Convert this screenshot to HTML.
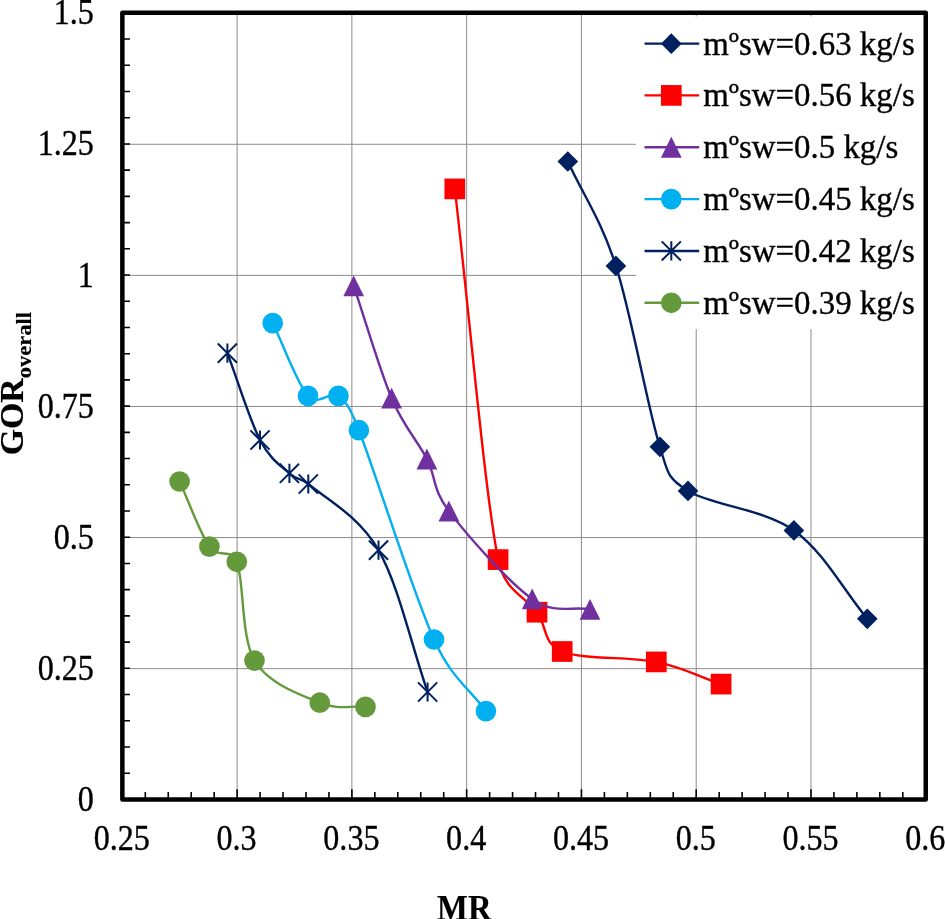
<!DOCTYPE html>
<html><head><meta charset="utf-8"><title>chart</title>
<style>html,body{margin:0;padding:0;background:#fff}body{width:945px;height:919px;overflow:hidden}svg{display:block;will-change:transform}text{font-family:"Liberation Serif",serif;fill:#000;stroke:#000;stroke-width:.35px}</style></head><body>
<svg width="945" height="919" viewBox="0 0 945 919">
<rect width="945" height="919" fill="#fff"/>
<path d="M237.12,12.85 V799.40 M351.89,12.85 V799.40 M466.66,12.85 V799.40 M581.44,12.85 V799.40 M696.21,12.85 V799.40 M810.98,12.85 V799.40 M122.35,668.66 H925.75 M122.35,537.57 H925.75 M122.35,406.48 H925.75 M122.35,275.38 H925.75 M122.35,144.29 H925.75" stroke="#8c8c8c" stroke-width="1" fill="none"/>
<path d="M122.35,799.40 h7.6 M122.35,773.18 h7.6 M122.35,746.96 h7.6 M122.35,720.75 h7.6 M122.35,694.53 h7.6 M122.35,668.31 h7.6 M122.35,642.09 h7.6 M122.35,615.87 h7.6 M122.35,589.65 h7.6 M122.35,563.43 h7.6 M122.35,537.22 h7.6 M122.35,511.00 h7.6 M122.35,484.78 h7.6 M122.35,458.56 h7.6 M122.35,432.34 h7.6 M122.35,406.12 h7.6 M122.35,379.91 h7.6 M122.35,353.69 h7.6 M122.35,327.47 h7.6 M122.35,301.25 h7.6 M122.35,275.03 h7.6 M122.35,248.81 h7.6 M122.35,222.60 h7.6 M122.35,196.38 h7.6 M122.35,170.16 h7.6 M122.35,143.94 h7.6 M122.35,117.72 h7.6 M122.35,91.50 h7.6 M122.35,65.29 h7.6 M122.35,39.07 h7.6 M122.35,12.85 h7.6 M122.35,799.40 v-10.2 M145.30,799.40 v-7.4 M168.26,799.40 v-7.4 M191.21,799.40 v-7.4 M214.17,799.40 v-7.4 M237.12,799.40 v-10.2 M260.08,799.40 v-7.4 M283.03,799.40 v-7.4 M305.98,799.40 v-7.4 M328.94,799.40 v-7.4 M351.89,799.40 v-10.2 M374.85,799.40 v-7.4 M397.80,799.40 v-7.4 M420.76,799.40 v-7.4 M443.71,799.40 v-7.4 M466.66,799.40 v-10.2 M489.62,799.40 v-7.4 M512.57,799.40 v-7.4 M535.53,799.40 v-7.4 M558.48,799.40 v-7.4 M581.44,799.40 v-10.2 M604.39,799.40 v-7.4 M627.34,799.40 v-7.4 M650.30,799.40 v-7.4 M673.25,799.40 v-7.4 M696.21,799.40 v-10.2 M719.16,799.40 v-7.4 M742.12,799.40 v-7.4 M765.07,799.40 v-7.4 M788.02,799.40 v-7.4 M810.98,799.40 v-10.2 M833.93,799.40 v-7.4 M856.89,799.40 v-7.4 M879.84,799.40 v-7.4 M902.80,799.40 v-7.4 M925.75,799.40 v-10.2" stroke="#000" stroke-width="1.6" fill="none"/>
<path d="M567.80,161.50 C583.83,196.30 600.55,218.35 615.90,265.90 C631.25,313.45 647.88,409.30 659.90,446.80 C667.88,471.70 665.82,477.06 688.00,490.90 C710.33,504.83 764.02,509.08 793.90,530.40 C823.78,551.72 842.83,589.33 867.30,618.80" stroke="#002060" stroke-width="2.4" fill="none" stroke-linecap="round"/>
<path d="M567.80,151.15 L578.15,161.50 L567.80,171.85 L557.45,161.50Z" fill="#002060"/><path d="M615.90,255.55 L626.25,265.90 L615.90,276.25 L605.55,265.90Z" fill="#002060"/><path d="M659.90,436.45 L670.25,446.80 L659.90,457.15 L649.55,446.80Z" fill="#002060"/><path d="M688.00,480.55 L698.35,490.90 L688.00,501.25 L677.65,490.90Z" fill="#002060"/><path d="M793.90,520.05 L804.25,530.40 L793.90,540.75 L783.55,530.40Z" fill="#002060"/><path d="M867.30,608.45 L877.65,618.80 L867.30,629.15 L856.95,618.80Z" fill="#002060"/>
<path d="M454.80,188.90 C469.23,312.47 484.40,489.05 498.10,559.60 C504.34,591.71 526.32,596.88 537.00,612.20 C547.68,627.52 542.32,643.22 562.20,651.50 C582.08,659.78 629.82,656.47 656.30,661.90 C682.78,667.33 699.50,676.70 721.10,684.10" stroke="#ff0000" stroke-width="2.4" fill="none" stroke-linecap="round"/>
<rect x="444.45" y="178.55" width="20.70" height="20.70" fill="#ff0000"/><rect x="487.75" y="549.25" width="20.70" height="20.70" fill="#ff0000"/><rect x="526.65" y="601.85" width="20.70" height="20.70" fill="#ff0000"/><rect x="551.85" y="641.15" width="20.70" height="20.70" fill="#ff0000"/><rect x="645.95" y="651.55" width="20.70" height="20.70" fill="#ff0000"/><rect x="710.75" y="673.75" width="20.70" height="20.70" fill="#ff0000"/>
<path d="M353.70,285.90 C366.33,323.33 379.40,369.35 391.60,398.20 C403.80,427.05 417.35,440.18 426.90,459.00 C436.45,477.82 431.89,488.51 448.90,511.10 C466.45,534.42 508.68,582.53 532.20,598.90 C555.72,615.27 570.73,605.83 590.00,609.30" stroke="#7030a0" stroke-width="2.4" fill="none" stroke-linecap="round"/>
<path d="M353.70,275.50 L364.10,296.30 L343.30,296.30Z" fill="#7030a0"/><path d="M391.60,387.80 L402.00,408.60 L381.20,408.60Z" fill="#7030a0"/><path d="M426.90,448.60 L437.30,469.40 L416.50,469.40Z" fill="#7030a0"/><path d="M448.90,500.70 L459.30,521.50 L438.50,521.50Z" fill="#7030a0"/><path d="M532.20,588.50 L542.60,609.30 L521.80,609.30Z" fill="#7030a0"/><path d="M590.00,598.90 L600.40,619.70 L579.60,619.70Z" fill="#7030a0"/>
<path d="M272.70,323.10 C284.47,347.37 297.05,383.77 308.00,395.90 C318.18,407.18 329.92,390.18 338.40,395.90 C346.88,401.62 351.60,411.60 358.90,430.20 C374.83,470.80 412.83,592.68 434.00,639.50 C452.22,679.79 468.60,687.23 485.90,711.10" stroke="#00b0f0" stroke-width="2.4" fill="none" stroke-linecap="round"/>
<circle cx="272.70" cy="323.10" r="10.35" fill="#00b0f0"/><circle cx="308.00" cy="395.90" r="10.35" fill="#00b0f0"/><circle cx="338.40" cy="395.90" r="10.35" fill="#00b0f0"/><circle cx="358.90" cy="430.20" r="10.35" fill="#00b0f0"/><circle cx="434.00" cy="639.50" r="10.35" fill="#00b0f0"/><circle cx="485.90" cy="711.10" r="10.35" fill="#00b0f0"/>
<path d="M227.40,353.10 C238.27,382.07 249.67,419.97 260.00,440.00 C270.18,459.74 281.35,465.97 289.40,473.30 C297.43,480.61 300.07,476.91 308.30,484.00 C323.15,496.80 358.62,515.43 378.50,550.10 C398.38,584.77 411.23,644.70 427.60,692.00" stroke="#002060" stroke-width="2.4" fill="none" stroke-linecap="round"/>
<path d="M217.80,343.50 L237.00,362.70 M217.80,362.70 L237.00,343.50 M227.40,343.50 L227.40,362.70" stroke="#002060" stroke-width="2.0" fill="none"/><path d="M250.40,430.40 L269.60,449.60 M250.40,449.60 L269.60,430.40 M260.00,430.40 L260.00,449.60" stroke="#002060" stroke-width="2.0" fill="none"/><path d="M279.80,463.70 L299.00,482.90 M279.80,482.90 L299.00,463.70 M289.40,463.70 L289.40,482.90" stroke="#002060" stroke-width="2.0" fill="none"/><path d="M298.70,474.40 L317.90,493.60 M298.70,493.60 L317.90,474.40 M308.30,474.40 L308.30,493.60" stroke="#002060" stroke-width="2.0" fill="none"/><path d="M368.90,540.50 L388.10,559.70 M368.90,559.70 L388.10,540.50 M378.50,540.50 L378.50,559.70" stroke="#002060" stroke-width="2.0" fill="none"/><path d="M418.00,682.40 L437.20,701.60 M418.00,701.60 L437.20,682.40 M427.60,682.40 L427.60,701.60" stroke="#002060" stroke-width="2.0" fill="none"/>
<path d="M179.60,481.50 C189.53,503.20 199.87,533.22 209.40,546.60 C218.49,559.36 231.04,547.23 236.80,561.80 C244.32,580.80 240.67,637.12 254.50,660.60 C268.33,684.08 301.30,694.98 319.80,702.70 C338.30,710.42 350.27,705.50 365.50,706.90" stroke="#649a3c" stroke-width="2.4" fill="none" stroke-linecap="round"/>
<circle cx="179.60" cy="481.50" r="10.35" fill="#649a3c"/><circle cx="209.40" cy="546.60" r="10.35" fill="#649a3c"/><circle cx="236.80" cy="561.80" r="10.35" fill="#649a3c"/><circle cx="254.50" cy="660.60" r="10.35" fill="#649a3c"/><circle cx="319.80" cy="702.70" r="10.35" fill="#649a3c"/><circle cx="365.50" cy="706.90" r="10.35" fill="#649a3c"/>
<rect x="636.0" y="16.5" width="287.5" height="312.5" fill="#fff"/>
<path d="M644.5,43.65 H699.2" stroke="#002060" stroke-width="2.4"/>
<path d="M671.30,33.30 L681.65,43.65 L671.30,54.00 L660.95,43.65Z" fill="#002060"/>
<text x="703.2" y="54.55" font-size="32.9">mºsw=0.63 kg/s</text>
<path d="M644.5,95.40 H699.2" stroke="#ff0000" stroke-width="2.4"/>
<rect x="660.95" y="85.05" width="20.70" height="20.70" fill="#ff0000"/>
<text x="703.2" y="106.30" font-size="32.9">mºsw=0.56 kg/s</text>
<path d="M644.5,147.25 H699.2" stroke="#7030a0" stroke-width="2.4"/>
<path d="M671.30,136.85 L681.70,157.65 L660.90,157.65Z" fill="#7030a0"/>
<text x="703.2" y="158.15" font-size="32.9">mºsw=0.5 kg/s</text>
<path d="M644.5,199.10 H699.2" stroke="#00b0f0" stroke-width="2.4"/>
<circle cx="671.30" cy="199.10" r="10.35" fill="#00b0f0"/>
<text x="703.2" y="210.00" font-size="32.9">mºsw=0.45 kg/s</text>
<path d="M644.5,250.95 H699.2" stroke="#002060" stroke-width="2.4"/>
<path d="M661.70,241.35 L680.90,260.55 M661.70,260.55 L680.90,241.35 M671.30,241.35 L671.30,260.55" stroke="#002060" stroke-width="2.0" fill="none"/>
<text x="703.2" y="261.85" font-size="32.9">mºsw=0.42 kg/s</text>
<path d="M644.5,302.80 H699.2" stroke="#649a3c" stroke-width="2.4"/>
<circle cx="671.30" cy="302.80" r="10.35" fill="#649a3c"/>
<text x="703.2" y="313.70" font-size="32.9">mºsw=0.39 kg/s</text>
<rect x="122.35" y="12.85" width="803.40" height="786.55" fill="none" stroke="#000" stroke-width="4.5" stroke-linejoin="round"/>
<text transform="translate(93.8,810.90) scale(0.972,1.095)" font-size="33" text-anchor="end">0</text>
<text transform="translate(93.8,679.81) scale(0.972,1.095)" font-size="33" text-anchor="end">0.25</text>
<text transform="translate(93.8,548.72) scale(0.972,1.095)" font-size="33" text-anchor="end">0.5</text>
<text transform="translate(93.8,417.62) scale(0.972,1.095)" font-size="33" text-anchor="end">0.75</text>
<text transform="translate(93.8,286.53) scale(0.972,1.095)" font-size="33" text-anchor="end">1</text>
<text transform="translate(93.8,155.44) scale(0.972,1.095)" font-size="33" text-anchor="end">1.25</text>
<text transform="translate(93.8,24.35) scale(0.972,1.095)" font-size="33" text-anchor="end">1.5</text>
<text transform="translate(121.85,850.0) scale(0.972,1.08)" font-size="33" text-anchor="middle">0.25</text>
<text transform="translate(236.62,850.0) scale(0.972,1.08)" font-size="33" text-anchor="middle">0.3</text>
<text transform="translate(351.39,850.0) scale(0.972,1.08)" font-size="33" text-anchor="middle">0.35</text>
<text transform="translate(466.16,850.0) scale(0.972,1.08)" font-size="33" text-anchor="middle">0.4</text>
<text transform="translate(580.94,850.0) scale(0.972,1.08)" font-size="33" text-anchor="middle">0.45</text>
<text transform="translate(695.71,850.0) scale(0.972,1.08)" font-size="33" text-anchor="middle">0.5</text>
<text transform="translate(810.48,850.0) scale(0.972,1.08)" font-size="33" text-anchor="middle">0.55</text>
<text transform="translate(925.25,850.0) scale(0.972,1.08)" font-size="33" text-anchor="middle">0.6</text>
<text transform="translate(464.3,919.5) scale(0.975,1.075)" font-size="33.5" font-weight="bold" text-anchor="middle" style="stroke-width:.15px">MR</text>
<text transform="translate(23.2,455.3) rotate(-90) scale(1,0.97)" style="stroke-width:.15px" font-size="33.8" font-weight="bold">GOR<tspan font-size="22.6" dy="7.6">overall</tspan></text>
</svg></body></html>
